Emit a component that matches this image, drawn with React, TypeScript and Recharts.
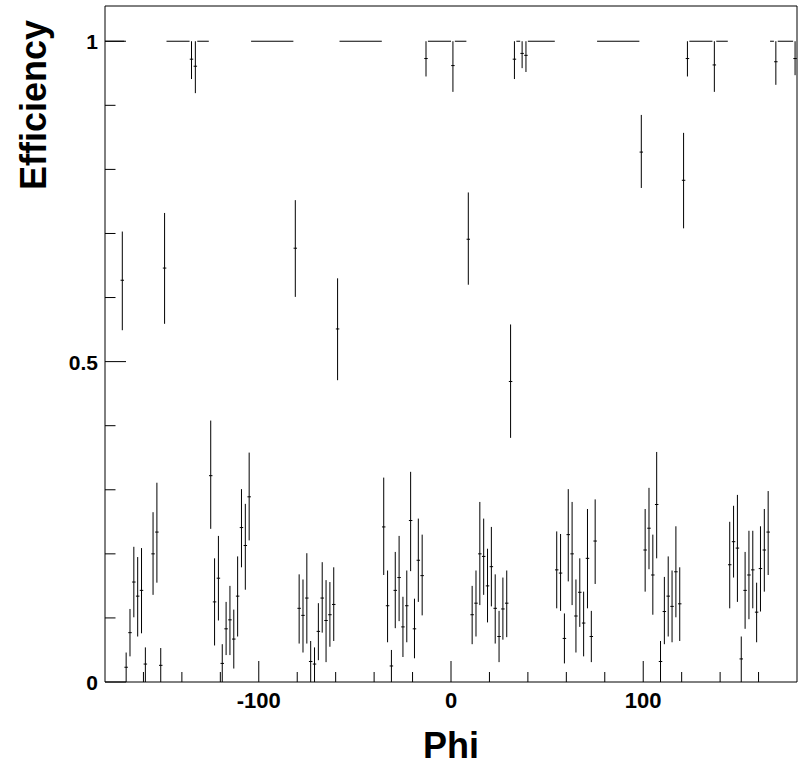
import React from 'react';
import { ComposedChart, Scatter, ErrorBar, XAxis, YAxis, ReferenceArea, Label } from 'recharts';

// runs of bins sitting exactly at efficiency 1 (phi from / to)
const fullFrom = [-180, -148, -132, -104, -58, -12, 2, 34, 40, 76, 124, 138, 166, 170];
const fullTo = [-170, -136, -126, -82, -36, 0, 8, 36, 54, 98, 136, 144, 168, 178];

// bins just under 1 (upper error reaches 1)
const highPhi = [-135, -133, -13, 1, 33, 37, 39, 123, 137, 169, 179];
const highEff = [0.972, 0.961, 0.973, 0.962, 0.972, 0.981, 0.978, 0.973, 0.963, 0.968, 0.973];
const highLow = [0.941, 0.919, 0.945, 0.921, 0.941, 0.958, 0.952, 0.945, 0.921, 0.932, 0.947];

// isolated bins in the middle
const midPhi = [-171, -149, -125, -81, -59, 9, 31, 99, 121];
const midEff = [0.627, 0.646, 0.322, 0.677, 0.551, 0.691, 0.469, 0.827, 0.783];
const midLow = [0.549, 0.559, 0.239, 0.601, 0.471, 0.62, 0.381, 0.771, 0.708];
const midHigh = [0.703, 0.732, 0.408, 0.752, 0.63, 0.764, 0.558, 0.885, 0.857];

// the low clusters
const lowPhi = [
  -169, -167, -165, -163, -161, -159, -155, -153, -151,
  -123, -121, -119, -117, -115, -113, -111, -109, -107, -105,
  -79, -77, -75, -73, -71, -69, -67, -65, -63, -61,
  -35, -33, -31, -29, -27, -25, -23, -21, -19, -17, -15,
  11, 13, 15, 17, 19, 21, 23, 25, 27, 29,
  55, 57, 59, 61, 63, 65, 67, 69, 71, 73, 75,
  101, 103, 105, 107, 109, 111, 113, 115, 117, 119,
  145, 147, 149, 151, 153, 155, 157, 159, 161, 163, 165,
];
const lowEff = [
  0.023, 0.077, 0.156, 0.134, 0.143, 0.028, 0.2, 0.234, 0.026,
  0.125, 0.162, 0.029, 0.083, 0.097, 0.067, 0.134, 0.241, 0.213, 0.289,
  0.115, 0.104, 0.131, 0.032, 0.028, 0.079, 0.131, 0.096, 0.105, 0.121,
  0.242, 0.119, 0.025, 0.143, 0.163, 0.086, 0.119, 0.252, 0.083, 0.19, 0.166,
  0.105, 0.123, 0.2, 0.196, 0.15, 0.18, 0.115, 0.071, 0.114, 0.123,
  0.175, 0.17, 0.068, 0.23, 0.2, 0.103, 0.14, 0.092, 0.193, 0.071, 0.22,
  0.206, 0.24, 0.167, 0.277, 0.032, 0.11, 0.134, 0.118, 0.172, 0.122,
  0.183, 0.219, 0.209, 0.036, 0.143, 0.167, 0.175, 0.109, 0.177, 0.206, 0.234,
];
const lowLow = [
  0, 0.04, 0.101, 0.071, 0.076, 0, 0.136, 0.155, 0,
  0.057, 0.096, 0, 0.042, 0.042, 0.021, 0.071, 0.179, 0.144, 0.221,
  0.06, 0.046, 0.06, 0, 0, 0.034, 0.077, 0.031, 0.055, 0.064,
  0.167, 0.062, 0, 0.084, 0.095, 0.039, 0.062, 0.173, 0.037, 0.125, 0.104,
  0.059, 0.071, 0.12, 0.136, 0.093, 0.118, 0.06, 0.031, 0.066, 0.07,
  0.115, 0.111, 0.029, 0.157, 0.12, 0.046, 0.086, 0.04, 0.115, 0.031, 0.153,
  0.141, 0.176, 0.105, 0.193, 0, 0.059, 0.071, 0.062, 0.101, 0.064,
  0.115, 0.163, 0.125, 0, 0.083, 0.098, 0.115, 0.062, 0.11, 0.141, 0.167,
];
const lowHigh = [
  0.046, 0.114, 0.211, 0.195, 0.209, 0.054, 0.265, 0.311, 0.053,
  0.193, 0.228, 0.059, 0.125, 0.15, 0.113, 0.196, 0.301, 0.278, 0.358,
  0.168, 0.16, 0.201, 0.064, 0.054, 0.123, 0.187, 0.159, 0.156, 0.179,
  0.319, 0.174, 0.05, 0.203, 0.228, 0.133, 0.174, 0.328, 0.13, 0.255, 0.23,
  0.15, 0.174, 0.281, 0.255, 0.208, 0.242, 0.168, 0.111, 0.163, 0.174,
  0.235, 0.231, 0.107, 0.301, 0.281, 0.16, 0.193, 0.141, 0.27, 0.111, 0.285,
  0.27, 0.303, 0.23, 0.359, 0.064, 0.164, 0.196, 0.174, 0.243, 0.179,
  0.25, 0.275, 0.292, 0.071, 0.203, 0.236, 0.236, 0.155, 0.243, 0.27, 0.298,
];

const phiTicks = [-160, -140, -120, -100, -80, -60, -40, -20, 0, 20, 40, 60, 80, 100, 120, 140, 160];
const phiLabels = [-100, 0, 100];
const effTicks = [0, 0.1, 0.2, 0.3, 0.4, 0.5, 0.6, 0.7, 0.8, 0.9, 1];
const effLabels = [0, 0.5, 1];

const BIN_HALF = 0.9;
const FONT = '"Liberation Sans", Arial, Helvetica, sans-serif';

const toPoints = (phi, eff, lo, hi) =>
  phi.map((x, i) => {
    const top = hi ? hi[i] : 1;
    return { x, y: eff[i], ey: [eff[i] - lo[i], top - eff[i]], ex: BIN_HALF };
  });

const points = [
  ...toPoints(lowPhi, lowEff, lowLow, lowHigh),
  ...toPoints(midPhi, midEff, midLow, midHigh),
  ...toPoints(highPhi, highEff, highLow, null),
];
const fullRuns = fullFrom.map((from, i) => ({ x: (from + fullTo[i]) / 2, y: 1, ex: (fullTo[i] - from) / 2 }));

const PhiTick = ({ x, y, payload }) => {
  const major = phiLabels.includes(payload.value);
  return (
    <g>
      <line x1={x} x2={x} y1={y} y2={y - (major ? 21 : 10)} stroke="#000" />
      {major && (
        <text x={x} y={y + 26} textAnchor="middle" fontFamily={FONT} fontWeight="bold" fontSize={22} fill="#000">
          {payload.value}
        </text>
      )}
    </g>
  );
};

const EffTick = ({ x, y, payload }) => {
  const major = effLabels.includes(payload.value);
  return (
    <g>
      <line x1={x} x2={x + (major ? 21 : 10.5)} y1={y} y2={y} stroke="#000" />
      {major && (
        <text x={x - 7} y={y + 8} textAnchor="end" fontFamily={FONT} fontWeight="bold" fontSize={21} fill="#000">
          {payload.value}
        </text>
      )}
    </g>
  );
};

const noMarker = () => <g />;

export default function App() {
  return (
    <div style={{ position: 'absolute', left: 0, top: 0, background: '#fff' }}>
      <ComposedChart width={804} height={767} margin={{ top: 6, right: 7, bottom: 0, left: 0 }}>
        <XAxis
          type="number"
          dataKey="x"
          domain={[-180, 180]}
          allowDataOverflow
          ticks={phiTicks}
          interval={0}
          tick={PhiTick}
          tickLine={false}
          axisLine={false}
          tickSize={0}
          tickMargin={0}
          height={85}
        >
          <Label
            content={({ viewBox }) => (
              <text x={viewBox.x + viewBox.width / 2} y={viewBox.y + 76} textAnchor="middle" fontFamily={FONT} fontWeight="bold" fontSize={36} fill="#000">
                Phi
              </text>
            )}
          />
        </XAxis>
        <YAxis
          type="number"
          dataKey="y"
          domain={[0, 1.055]}
          allowDataOverflow
          ticks={effTicks}
          interval={0}
          tick={EffTick}
          tickLine={false}
          axisLine={false}
          tickSize={0}
          tickMargin={0}
          width={105}
        >
          <Label
            content={() => (
              <text transform="translate(46,20) rotate(-90)" textAnchor="end" fontFamily={FONT} fontWeight="bold" fontSize={36} fill="#000">
                Efficiency
              </text>
            )}
          />
        </YAxis>
        <ReferenceArea x1={-180} x2={180} y1={0} y2={1.055} fill="none" stroke="#000" strokeWidth={1} ifOverflow="visible" />
        <Scatter data={fullRuns} shape={noMarker} isAnimationActive={false}>
          <ErrorBar dataKey="ex" direction="x" width={0} stroke="#000" strokeWidth={1} isAnimationActive={false} />
        </Scatter>
        <Scatter data={points} shape={noMarker} isAnimationActive={false}>
          <ErrorBar dataKey="ey" direction="y" width={0} stroke="#000" strokeWidth={1} isAnimationActive={false} />
          <ErrorBar dataKey="ex" direction="x" width={0} stroke="#000" strokeWidth={1} isAnimationActive={false} />
        </Scatter>
      </ComposedChart>
    </div>
  );
}
